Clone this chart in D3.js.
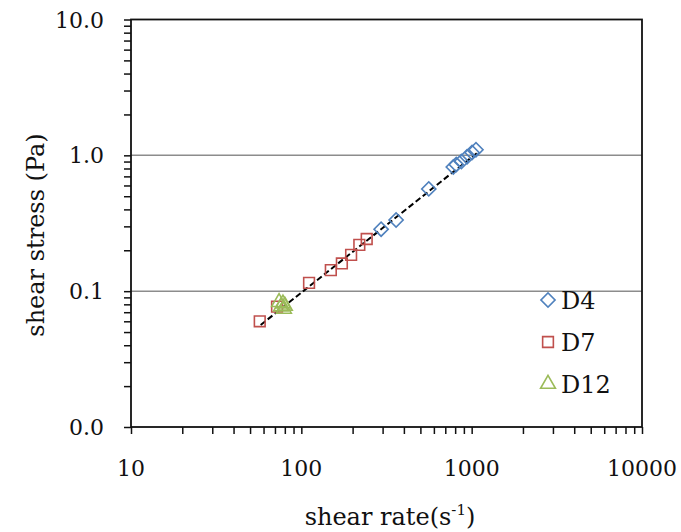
<!DOCTYPE html>
<html><head><meta charset="utf-8">
<script src="https://cdn.jsdelivr.net/npm/d3@7"></script>
<style>body{margin:0;background:#fff}svg{display:block}text{font-family:"DejaVu Serif",serif;fill:#111}</style>
</head><body><svg id="c" width="681" height="532"></svg>
<script>
const seriesNames = ["D4", "D7", "D12"];
const d4Rate   = [294, 360, 560, 780, 812, 870, 940, 1005, 1060];
const d4Stress = [0.286, 0.334, 0.566, 0.82, 0.855, 0.90, 0.975, 1.05, 1.10];
const d7Rate   = [57, 72, 111, 149, 173, 196, 219, 242];
const d7Stress = [0.060, 0.077, 0.115, 0.143, 0.160, 0.185, 0.219, 0.242];
const d12Rate   = [74, 76, 78, 80, 79];
const d12Stress = [0.083, 0.077, 0.081, 0.078, 0.074];
const trendRate   = [57.7, 1071];
const trendStress = [0.0564, 1.036];
const xTicks = [10, 100, 1000, 10000];
const xTickLabels = ["10", "100", "1000", "10000"];
const yTicks = [0.01, 0.1, 1, 10];
const yTickLabels = ["0.0", "0.1", "1.0", "10.0"];
const colors = ["#4F81BD", "#C0504D", "#9BBB59"];

const svg = d3.select("#c");
const L = 131, R = 642, T = 19.5, B = 427;
const x = d3.scaleLog().domain([10, 10000]).range([L, R]);
const y = d3.scaleLog().domain([0.01, 10]).range([B, T]);

// gridlines
svg.append("g").selectAll("line").data([0.1, 1]).join("line")
  .attr("x1", L).attr("x2", R).attr("y1", d => y(d)).attr("y2", d => y(d))
  .attr("stroke", "#8c8c8c").attr("stroke-width", 1.5);

// minor ticks
const xMinor = [];
for (let dec = 10; dec < 10000; dec *= 10) for (let k = 1; k <= 9; k++) xMinor.push(dec * k);
xMinor.push(10000);
const yMinor = [];
for (let dec = 0.01; dec < 9; dec *= 10) for (let k = 1; k <= 9; k++) yMinor.push(dec * k);
yMinor.push(10);

const gx = svg.append("g").attr("transform", `translate(0,${B})`)
  .call(d3.axisBottom(x).tickValues(xMinor).tickSize(7).tickFormat(""));
const gy = svg.append("g").attr("transform", `translate(${L},0)`)
  .call(d3.axisLeft(y).tickValues(yMinor).tickSize(7).tickFormat(""));
[gx, gy].forEach(g => { g.select(".domain").remove(); g.selectAll("line").attr("stroke", "#111").attr("stroke-width", 1.5); });

// frame
svg.append("rect").attr("x", L).attr("y", T).attr("width", R - L).attr("height", B - T)
  .attr("fill", "none").attr("stroke", "#111").attr("stroke-width", 1.8);

// tick labels
svg.append("g").selectAll("text").data(xTicks).join("text")
  .attr("x", d => x(d)).attr("y", 476).attr("text-anchor", "middle")
  .style("font-size", "22px").text((d, i) => xTickLabels[i]);
svg.append("g").selectAll("text").data(yTicks).join("text")
  .attr("x", 104).attr("y", d => y(d) + 8).attr("text-anchor", "end")
  .style("font-size", "22px").text((d, i) => yTickLabels[i]);

// axis titles
svg.append("text").attr("transform", "translate(44,235) rotate(-90)").attr("text-anchor", "middle")
  .style("font-size", "24px").text("shear stress (Pa)");
const xt = svg.append("text").attr("x", 390).attr("y", 525).attr("text-anchor", "middle").style("font-size", "24px");
xt.append("tspan").text("shear rate(s");
xt.append("tspan").attr("dy", -10).style("font-size", "15px").text("-1");
xt.append("tspan").attr("dy", 10).text(")");

// trend line
svg.append("path")
  .attr("d", d3.line().x(d => x(d[0])).y(d => y(d[1]))(trendRate.map((r, i) => [r, trendStress[i]])))
  .attr("fill", "none").attr("stroke", "#000").attr("stroke-width", 2).attr("stroke-dasharray", "6,3");

// markers
const shapes = [d3.symbolSquare, d3.symbolSquare, d3.symbolTriangle];
const rot = [45, 0, 0];
const sizes = [100, 115, 95];
function marker(sel, i) {
  sel.attr("d", d3.symbol().type(shapes[i]).size(sizes[i]))
    .attr("fill", "none").attr("stroke", colors[i]).attr("stroke-width", 1.6);
}
const series = [[d4Rate, d4Stress], [d7Rate, d7Stress], [d12Rate, d12Stress]];
series.forEach(([rs, ss], i) => {
  svg.append("g").selectAll("path").data(rs.map((r, j) => [r, ss[j]])).join("path")
    .attr("transform", d => `translate(${x(d[0])},${y(d[1])}) rotate(${rot[i]})`)
    .call(marker, i);
});

// legend
const legY = [300, 342, 384];
seriesNames.forEach((n, i) => {
  svg.append("path").attr("transform", `translate(548,${legY[i]}) rotate(${rot[i]})`).call(marker, i);
  svg.append("text").attr("x", 561).attr("y", legY[i] + 9).style("font-size", "24px").text(n);
});
</script></body></html>
